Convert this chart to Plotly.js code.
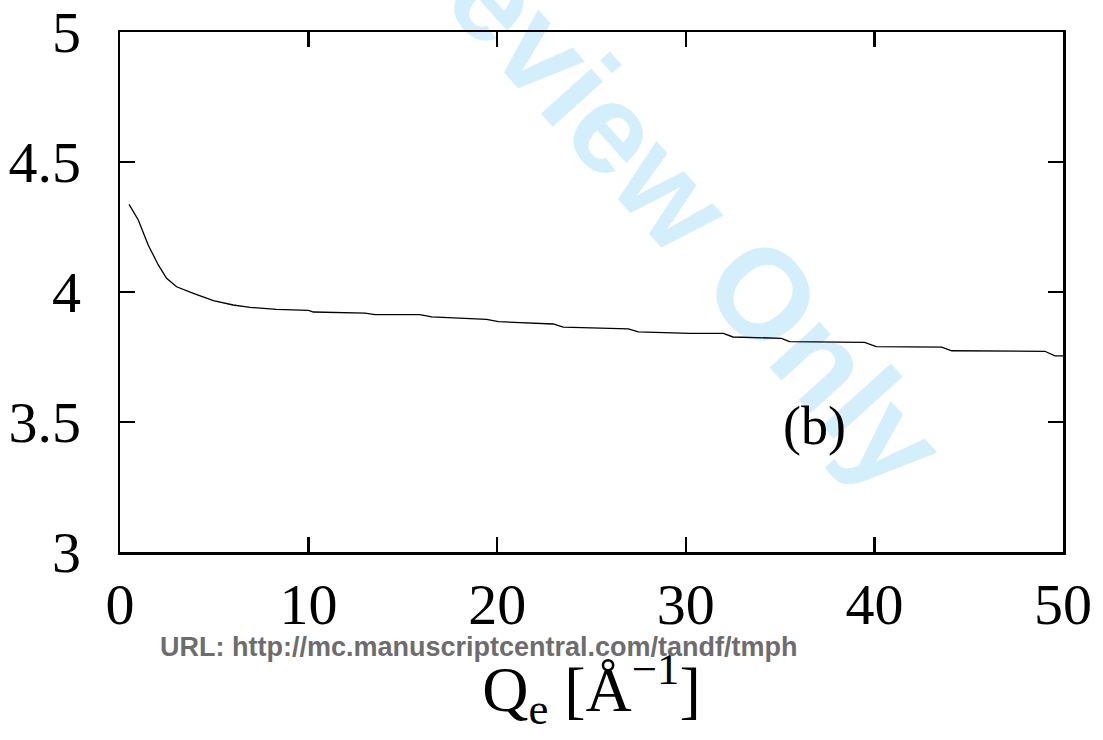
<!DOCTYPE html>
<html>
<head>
<meta charset="utf-8">
<script src="https://cdn.plot.ly/plotly-3.0.1.min.js"></script>
<style>html,body{margin:0;padding:0;background:#fff;}#chart{width:1103px;height:740px;}</style>
</head>
<body>
<div id="chart"></div>
<script>
// Data
const qValues = [0.48, 0.97, 1.5, 2.03, 2.47, 3.0, 3.89, 4.95, 6.0, 6.89, 8.3, 9.54, 10.0, 10.25, 12.99, 13.52, 15.9, 16.53, 19.44, 20.06, 22.97, 23.5, 26.95, 27.48, 30.2, 31.99, 32.5, 35.07, 35.5, 39.48, 40.1, 43.57, 44.1, 49.04, 49.57, 50.0];
const yValues = [4.337, 4.277, 4.18, 4.104, 4.053, 4.02, 3.995, 3.967, 3.95, 3.941, 3.933, 3.930, 3.929, 3.923, 3.919, 3.913, 3.913, 3.904, 3.895, 3.886, 3.877, 3.865, 3.858, 3.847, 3.841, 3.841, 3.827, 3.822, 3.809, 3.806, 3.790, 3.788, 3.774, 3.772, 3.754, 3.754];
const xTicks = [0, 10, 20, 30, 40, 50];
const yTicks = [3, 3.5, 4, 4.5, 5];
const yTickLabels = ['3', '3.5', '4', '4.5', '5'];
const panelLabel = '(b)';
const xTitle = 'Q<sub>e</sub> [Å<sup>−1</sup>]';
const watermarkUrl = 'URL: http://mc.manuscriptcentral.com/tandf/tmph';
const watermarkBig = 'For Peer Review Only';

const serif = 'Liberation Serif, Times New Roman, serif';
const sans = 'Liberation Sans, Arial, sans-serif';

const trace = {
  x: qValues, y: yValues, type: 'scatter', mode: 'lines',
  line: {color: '#000', width: 1.3}, hoverinfo: 'skip', showlegend: false
};

const axisCommon = {
  showgrid: false, zeroline: false, showline: true, linecolor: '#000', linewidth: 2.5,
  mirror: 'ticks', ticks: 'inside', ticklen: 15, tickwidth: 2.5, tickcolor: '#000',
  tickfont: {family: serif, size: 58, color: '#000'}
};

const layout = {
  width: 1103, height: 740,
  margin: {l: 120, r: 40, t: 32, b: 188},
  paper_bgcolor: '#fff', plot_bgcolor: 'rgba(0,0,0,0)',
  showlegend: false,
  xaxis: Object.assign({}, axisCommon, {
    range: [0, 50], tickvals: xTicks, ticktext: xTicks.map(String),
    ticklabelstandoff: 0,
    title: {text: xTitle, font: {family: serif, size: 64, color: '#000'}, standoff: 30}
  }),
  yaxis: Object.assign({}, axisCommon, {
    range: [3, 5], tickvals: yTicks, ticktext: yTickLabels,
    ticklabelstandoff: 25
  }),
  shapes: [{
    type: 'rect', xref: 'paper', yref: 'paper', layer: 'below',
    x0: 0.3908, x1: 0.3918, y0: 1.116, y1: 1.117,
    line: {width: 0}, fillcolor: 'rgba(0,0,0,0)',
    label: {text: '<b>' + watermarkBig + '</b>', textangle: 48, textposition: 'middle center',
      font: {family: sans, size: 128, color: 'rgb(212,239,252)'}}
  }],
  annotations: [
    {text: panelLabel, x: 36.85, y: 3.485, xref: 'x', yref: 'y', showarrow: false,
     font: {family: serif, size: 54, color: '#000'}},
    {text: '<b>' + watermarkUrl + '</b>', xref: 'paper', yref: 'paper', showarrow: false,
     xanchor: 'center', yanchor: 'middle',
     x: (479 - 120) / 943, y: (552 - 647) / 520,
     font: {family: sans, size: 27, color: '#6d6d6d'}}
  ]
};

Plotly.newPlot('chart', [trace], layout, {displayModeBar: false, staticPlot: true});
</script>
</body>
</html>
